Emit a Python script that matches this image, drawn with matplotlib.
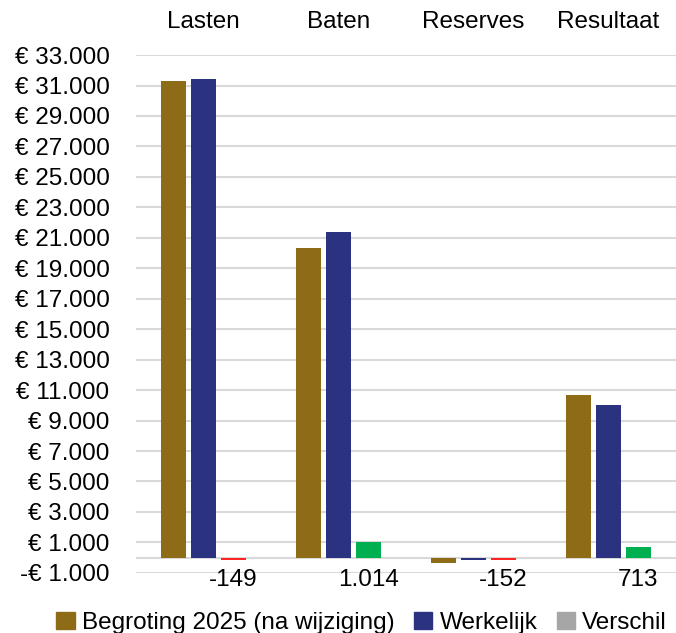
import numpy as np
import matplotlib.pyplot as plt
from matplotlib.patches import Patch
from matplotlib.ticker import FuncFormatter

plt.rcParams['font.family'] = ['Liberation Sans', 'DejaVu Sans']

# Gegevens
categorieen = ['Lasten', 'Baten', 'Reserves', 'Resultaat']
begroting = [31300, 20350, -330, 10700]
werkelijk = [31450, 21350, -170, 10000]
verschil = [-149, 1014, -152, 713]
verschil_labels = ['-149', '1.014', '-152', '713']

kleur_begroting = '#8E6C17'
kleur_werkelijk = '#2B3381'
kleur_pos = '#00B050'
kleur_neg = '#FF2424'
kleur_legenda = '#A6A6A6'


def euro(v, pos):
    s = '{:,.0f}'.format(abs(v)).replace(',', '.')
    return ('-€ ' if v < 0 else '€ ') + s


fig = plt.figure(figsize=(6.76, 6.33), dpi=100)
ax = fig.add_axes([0.201, 0.095, 0.799, 0.818])

x = np.arange(len(categorieen))
w = 0.185
d = 0.222

ax.bar(x - d, begroting, w, color=kleur_begroting, zorder=3)
ax.bar(x, werkelijk, w, color=kleur_werkelijk, zorder=3)
ax.bar(x + d, verschil, w, color=[kleur_pos if v > 0 else kleur_neg for v in verschil], zorder=3)

for xi, lab in zip(x, verschil_labels):
    ax.text(xi + d, -1450, lab, ha='center', va='center', fontsize=17.5, clip_on=False)

ax.set_xlim(-0.5, len(categorieen) - 0.5)
ax.set_ylim(-1000, 33000)
ax.set_yticks(np.arange(-1000, 33001, 2000))
ax.yaxis.set_major_formatter(FuncFormatter(euro))
ax.grid(axis='y', color='#D9D9D9', linewidth=1.5, zorder=0)
ax.axhline(0, color='#D9D9D9', linewidth=1.5, zorder=1)

ax.set_xticks(x)
ax.set_xticklabels(categorieen)
ax.xaxis.tick_top()
ax.tick_params(axis='x', length=0, pad=16, labelsize=17.5)
ax.tick_params(axis='y', length=0, pad=19, labelsize=17.5)
for s in ax.spines.values():
    s.set_visible(False)

handles = [Patch(color=kleur_begroting, label='Begroting 2025 (na wijziging)'),
           Patch(color=kleur_werkelijk, label='Werkelijk'),
           Patch(color=kleur_legenda, label='Verschil')]
fig.legend(handles=handles, loc='lower center', bbox_to_anchor=(0.535, -0.036), ncol=3,
           frameon=False, fontsize=17.5, handlelength=0.75, handleheight=0.75,
           handletextpad=0.3, columnspacing=0.8)

fig.savefig('out.png', dpi=100)
